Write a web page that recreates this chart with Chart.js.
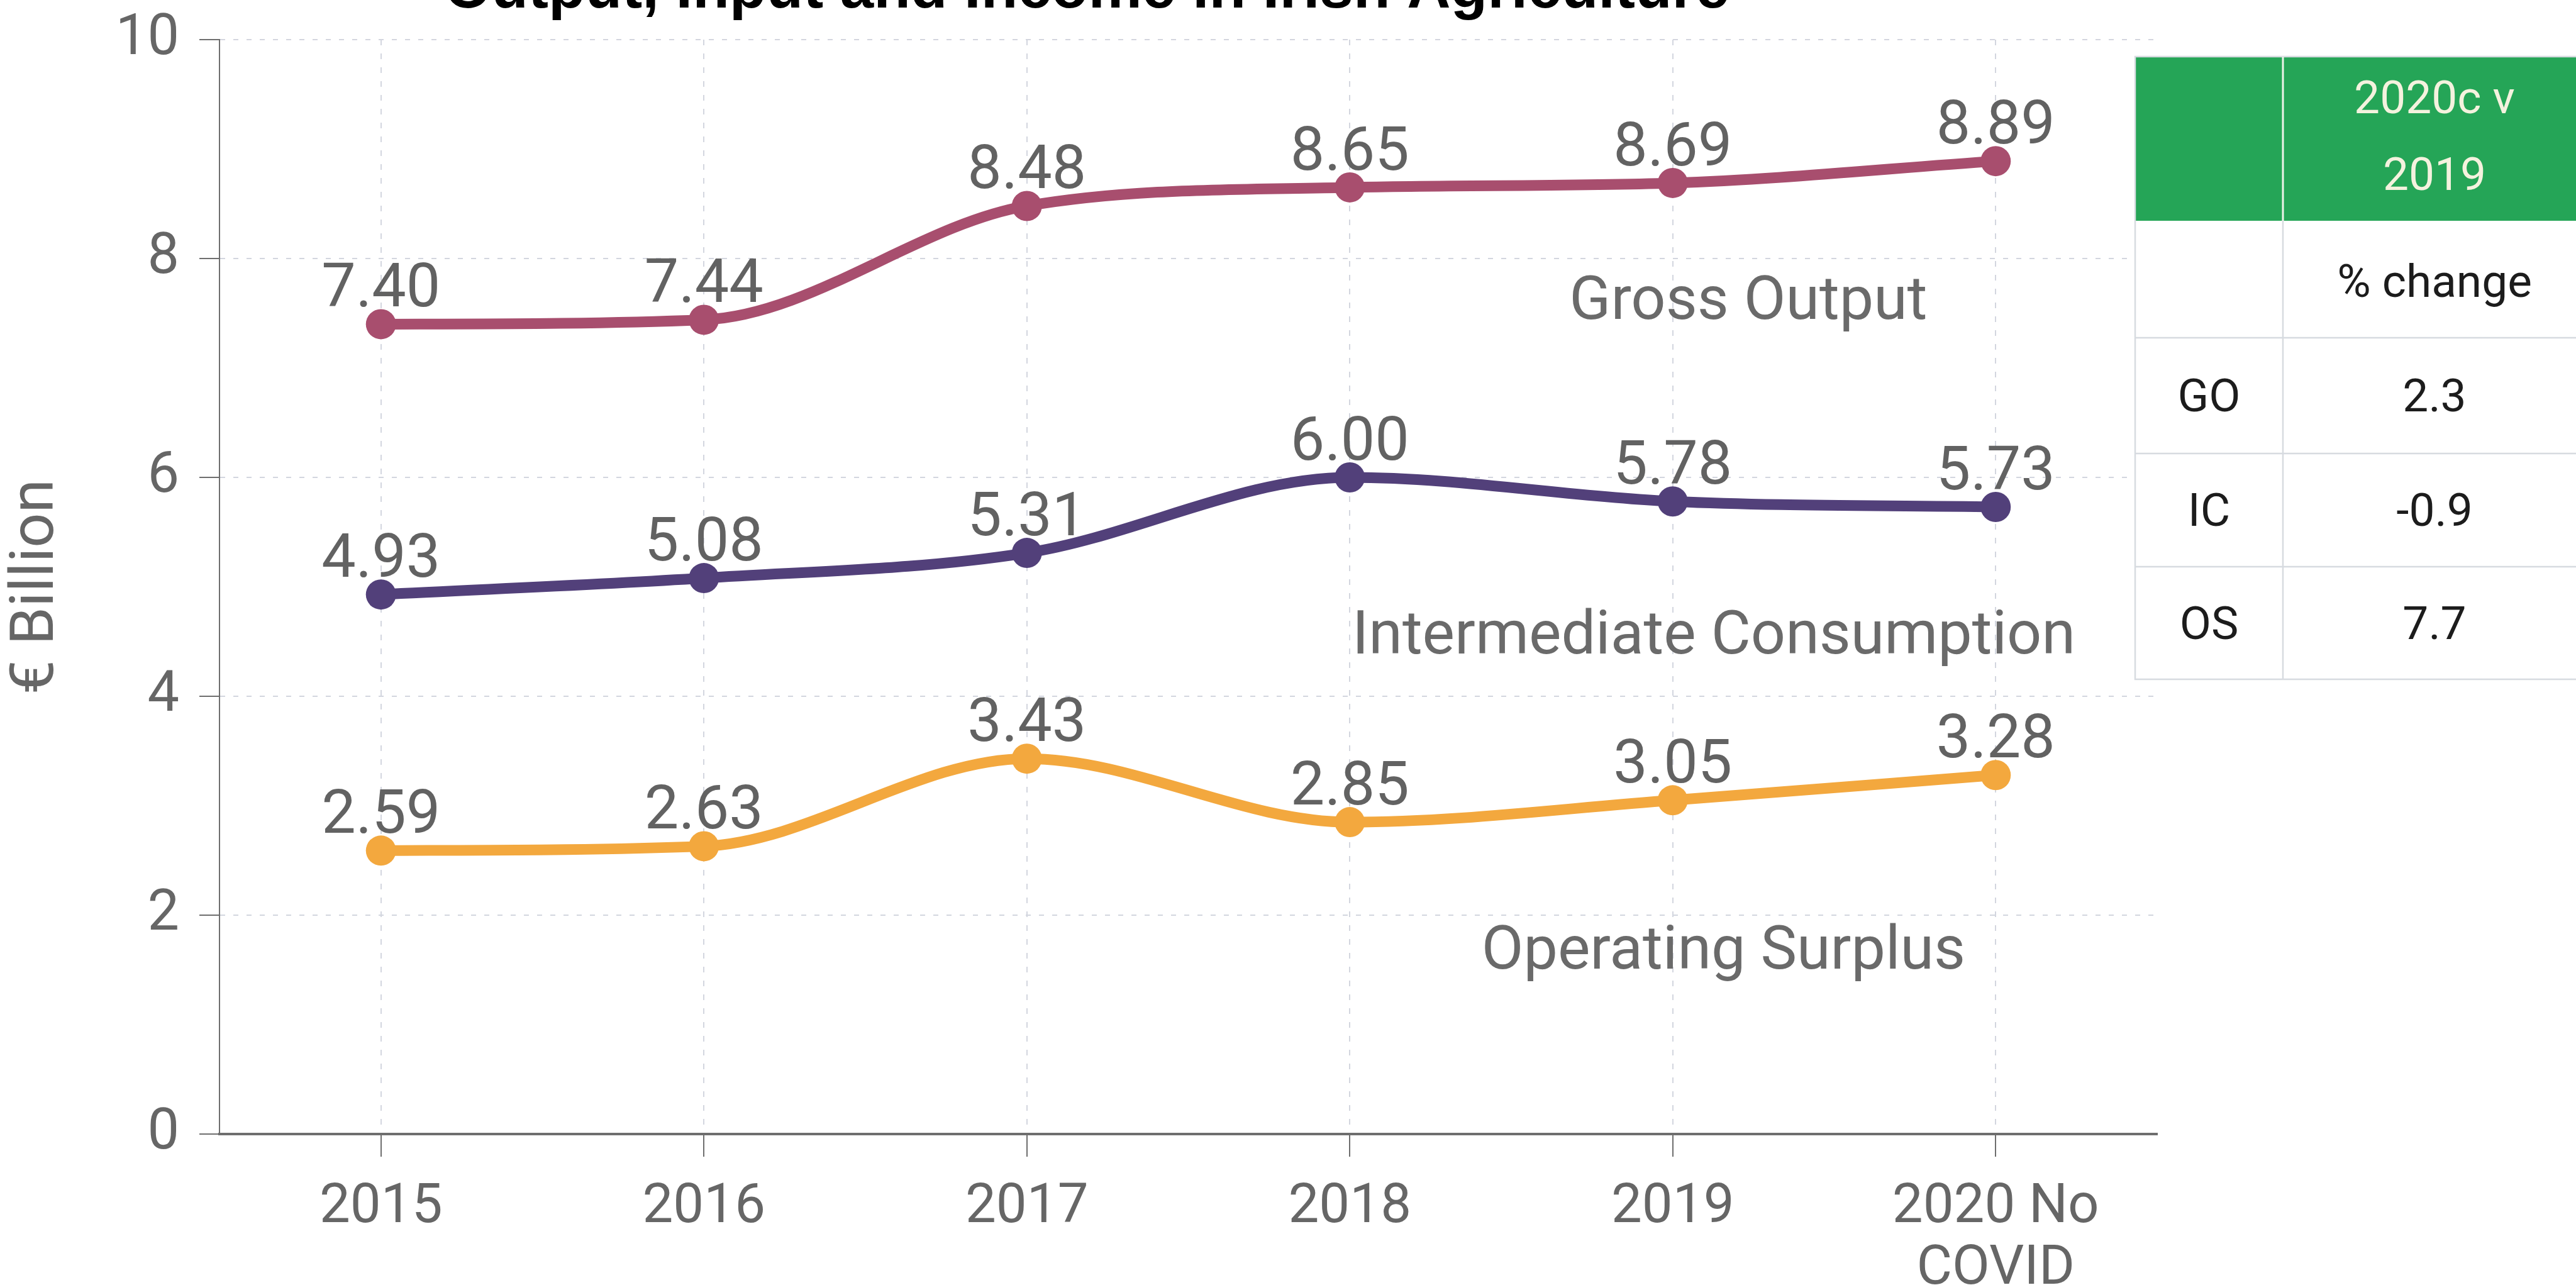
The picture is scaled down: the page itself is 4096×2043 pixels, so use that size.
<!DOCTYPE html>
<html>
<head>
<meta charset="utf-8">
<script src="https://cdn.jsdelivr.net/npm/chart.js@4/dist/chart.umd.min.js"></script>
<style>
  html, body { margin: 0; padding: 0; background: #ffffff; overflow: hidden; }
  canvas { display: block; }
</style>
</head>
<body>
<canvas id="chart" width="4096" height="2043"></canvas>
<script>
// ---- data ----
const years = ['2015', '2016', '2017', '2018', '2019', ['2020 No', 'COVID']];
const grossOutput = [7.40, 7.44, 8.48, 8.65, 8.69, 8.89];
const intermediateConsumption = [4.93, 5.08, 5.31, 6.00, 5.78, 5.73];
const operatingSurplus = [2.59, 2.63, 3.43, 2.85, 3.05, 3.28];
const seriesNames = ['Gross Output', 'Intermediate Consumption', 'Operating Surplus'];
const yAxisTitle = '€ Billion';
const chartTitle = 'Output, Input and Income in Irish Agriculture';
const tableHeader = ['2020c v', '2019'];
const tableSubHeader = '% change';
const tableCodes = ['GO', 'IC', 'OS'];
const tableChange = ['2.3', '-0.9', '7.7'];

// ---- styling / layout ----
const FONT = 'Roboto';
const seriesColors = ['#a84e6e', '#52407a', '#f3a83e'];
// where each series name sits: [category index, value]
const seriesNameAnchors = [[4.234, 7.59], [4.127, 4.53], [4.157, 1.65]];
const tableGeom = { x: [3395, 3630, 4112], y: [90, 351, 537, 721, 901, 1080] };

const valueLabels = {
  id: 'valueLabels',
  afterDatasetsDraw(chart) {
    const ctx = chart.ctx;
    ctx.save();
    ctx.font = `97px ${FONT}`;
    ctx.fillStyle = '#626262';
    ctx.textAlign = 'center';
    ctx.textBaseline = 'alphabetic';
    chart.data.datasets.forEach((ds, i) => {
      chart.getDatasetMeta(i).data.forEach((pt, j) => {
        ctx.fillText(ds.data[j].toFixed(2), pt.x, pt.y - 28);
      });
    });
    ctx.restore();
  }
};

const seriesNameLabels = {
  id: 'seriesNameLabels',
  afterDatasetsDraw(chart) {
    const ctx = chart.ctx;
    const xs = chart.scales.x, ys = chart.scales.y;
    ctx.save();
    ctx.font = `97px ${FONT}`;
    ctx.fillStyle = '#6a6a6a';
    ctx.textAlign = 'center';
    ctx.textBaseline = 'middle';
    seriesNames.forEach((name, i) => {
      const [ix, v] = seriesNameAnchors[i];
      ctx.fillText(name, xs.getPixelForValue(ix), ys.getPixelForValue(v));
    });
    ctx.restore();
  }
};

const topTitle = {
  id: 'topTitle',
  afterDraw(chart) {
    const ctx = chart.ctx;
    ctx.save();
    ctx.font = 'bold 96px "Liberation Sans", Arial, sans-serif';
    ctx.fillStyle = '#000000';
    ctx.textAlign = 'center';
    ctx.textBaseline = 'alphabetic';
    ctx.fillText(chartTitle, 1728, 12);
    ctx.restore();
  }
};

const changeTable = {
  id: 'changeTable',
  afterDraw(chart) {
    const ctx = chart.ctx;
    const X = tableGeom.x, Y = tableGeom.y;
    ctx.save();
    // body and header fills
    ctx.fillStyle = '#ffffff';
    ctx.fillRect(X[0], Y[0], X[2] - X[0], Y[5] - Y[0]);
    ctx.fillStyle = '#25a557';
    ctx.fillRect(X[0], Y[0], X[2] - X[0], Y[1] - Y[0]);
    // grid lines
    ctx.strokeStyle = '#d7dbe0';
    ctx.lineWidth = 2.5;
    ctx.strokeRect(X[0], Y[0], X[2] - X[0], Y[5] - Y[0]);
    ctx.beginPath();
    for (let r = 2; r <= 4; r++) { ctx.moveTo(X[0], Y[r]); ctx.lineTo(X[2], Y[r]); }
    ctx.moveTo(X[1], Y[1]); ctx.lineTo(X[1], Y[5]);
    ctx.stroke();
    ctx.strokeStyle = '#eef3ea';
    ctx.lineWidth = 3;
    ctx.beginPath();
    ctx.moveTo(X[1], Y[0]); ctx.lineTo(X[1], Y[1]);
    ctx.stroke();
    // texts
    const c1 = (X[0] + X[1]) / 2, c2 = (X[1] + X[2]) / 2;
    ctx.textAlign = 'center';
    ctx.textBaseline = 'middle';
    ctx.font = `73px ${FONT}`;
    ctx.fillStyle = '#f4f2de';
    ctx.fillText(tableHeader[0], c2, 162);
    ctx.fillText(tableHeader[1], c2, 284);
    ctx.fillStyle = '#1c1c1c';
    ctx.fillText(tableSubHeader, c2, (Y[1] + Y[2]) / 2 + 10);
    tableCodes.forEach((code, i) => {
      const cy = (Y[i + 2] + Y[i + 3]) / 2 + 7;
      ctx.fillText(code, c1, cy);
      ctx.fillText(tableChange[i], c2, cy);
    });
    ctx.restore();
  }
};

function build() {
  const ctx = document.getElementById('chart').getContext('2d');
  new Chart(ctx, {
    type: 'line',
    data: {
      labels: years,
      datasets: [grossOutput, intermediateConsumption, operatingSurplus].map((d, i) => ({
        label: seriesNames[i],
        data: d,
        borderColor: seriesColors[i],
        backgroundColor: seriesColors[i],
        pointBackgroundColor: seriesColors[i],
        fill: false
      }))
    },
    options: {
      responsive: false,
      animation: false,
      devicePixelRatio: 1,
      events: [],
      layout: { padding: { top: 63, right: 666, left: 0, bottom: 0 } },
      elements: {
        line: { borderWidth: 17, cubicInterpolationMode: 'monotone', borderCapStyle: 'round' },
        point: { radius: 24, borderWidth: 0, hoverRadius: 24 }
      },
      plugins: {
        legend: { display: false },
        tooltip: { enabled: false },
        title: { display: false }
      },
      scales: {
        x: {
          offset: true,
          grid: { color: '#d3d6df', lineWidth: 2, tickLength: 36, tickColor: '#6e6e6e', tickWidth: 2 },
          border: { color: '#6e6e6e', width: 4, dash: [9, 13] },
          ticks: {
            color: '#666666', font: { family: FONT, size: 87, lineHeight: 1.12 },
            padding: 34, maxRotation: 0, autoSkip: false
          },
          afterFit(s) { s.height = 240; s.paddingLeft = 0; s.paddingRight = 0; }
        },
        y: {
          min: 0, max: 10,
          grid: { color: '#d3d6df', lineWidth: 2, tickLength: 32, tickColor: '#6e6e6e', tickWidth: 2 },
          border: { color: '#6e6e6e', width: 2, dash: [8, 13] },
          ticks: { stepSize: 2, color: '#666666', font: { family: FONT, size: 90 }, padding: 32 },
          title: {
            display: true, text: yAxisTitle, color: '#666666',
            font: { family: FONT, size: 97 }, padding: { top: 2, bottom: 0 }
          },
          afterFit(s) { s.width = 349; s.paddingTop = 0; s.paddingBottom = 0; }
        }
      }
    },
    plugins: [valueLabels, seriesNameLabels, topTitle, changeTable]
  });
}

Promise.all([
  document.fonts.load(`97px ${FONT}`),
  document.fonts.load('bold 96px "Liberation Sans"')
]).then(build, build);
</script>
</body>
</html>
